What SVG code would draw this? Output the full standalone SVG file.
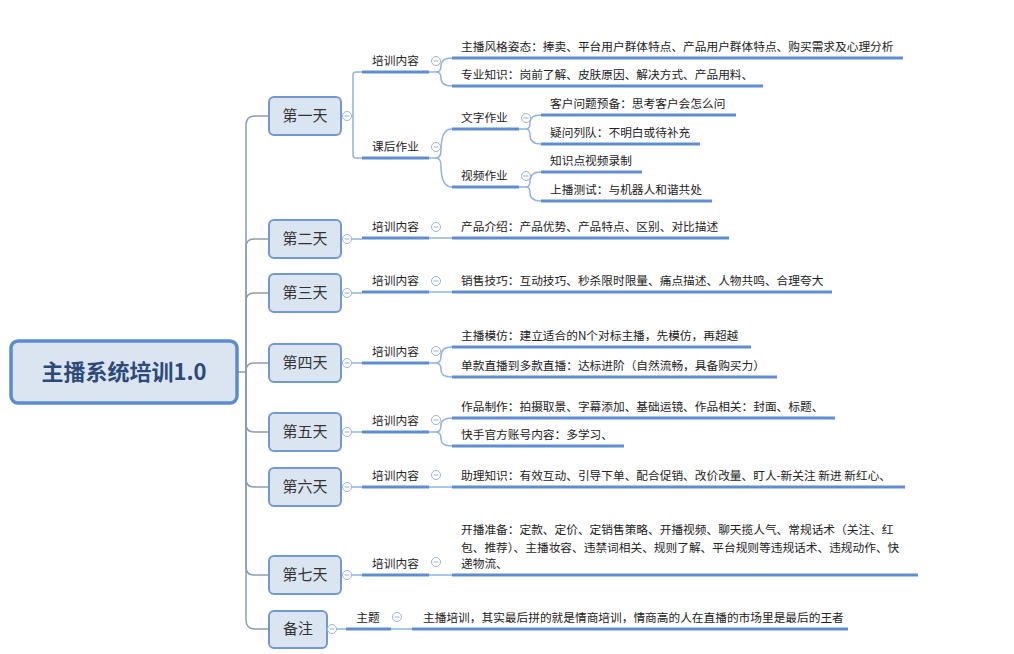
<svg xmlns="http://www.w3.org/2000/svg" width="1014" height="654" viewBox="0 0 1014 654">
<style>
text{font-family:"Noto Sans CJK SC","Microsoft YaHei",sans-serif;}
.root rect{fill:#dbe5f2;stroke:#5b8bd0;stroke-width:3.5;}
.root text{font-size:22px;font-weight:bold;fill:#2c4a78;text-anchor:middle;}
.day rect{fill:#dbe5f2;stroke:#7199d0;stroke-width:2;}
.day text{font-size:15px;fill:#333;text-anchor:middle;}
.lbl{font-size:11.7px;fill:#222;}
.mid{text-anchor:middle;}
.ul{stroke:#5f8dcf;stroke-width:3;fill:none;}
.cn{stroke:#93b2dc;stroke-width:1.5;fill:none;}
.sp{stroke:#8c9cb3;stroke-width:1.5;fill:none;}
.tog{fill:#fff;stroke:#9db2cf;stroke-width:1;}
.tm{stroke:#9db2cf;stroke-width:1;}
</style>
<defs>
<g id="tg"><circle class="tog" r="4.5"/><line class="tm" x1="-2.5" y1="0" x2="2.5" y2="0"/></g>
</defs>
<rect width="1014" height="654" fill="#fff"/>

<g id="connectors">
<!-- spine -->
<path class="sp" d="M238 372 H246"/>
<path class="sp" d="M246 372 V125 Q246 116 255 116 H269"/>
<path class="sp" d="M246 372 V247 Q246 239 254 239 H269"/>
<path class="sp" d="M246 372 V301 Q246 293 254 293 H269"/>
<path class="sp" d="M246 372 V371 Q246 363 254 363 H269"/>
<path class="sp" d="M246 372 V424 Q246 432 254 432 H269"/>
<path class="sp" d="M246 372 V479 Q246 487 254 487 H269"/>
<path class="sp" d="M246 372 V567 Q246 575 254 575 H269"/>
<path class="sp" d="M246 372 V620 Q246 629 255 629 H269"/>
<!-- day 1 -->
<path class="cn" d="M351 116 H353"/>
<path class="cn" d="M362 72 H356 Q353 72 353 75 V155 Q353 158 356 158 H362"/>
<path class="cn" d="M429 72 H436 Q441 72 441 66 Q441 58 452 58"/>
<path class="cn" d="M436 72 Q441 72 441 78 Q441 86 452 86"/>
<path class="cn" d="M429 158 H436 Q441 158 441 150 Q441 129 452 129"/>
<path class="cn" d="M436 158 Q441 158 441 166 Q441 187 452 187"/>
<path class="cn" d="M519 129 H526 Q530 129 530 123 Q530 115 541 115"/>
<path class="cn" d="M526 129 Q530 129 530 135 Q530 144 541 144"/>
<path class="cn" d="M519 187 H526 Q530 187 530 181 Q530 172 541 172"/>
<path class="cn" d="M526 187 Q530 187 530 193 Q530 201 541 201"/>
<!-- day 2..7 -->
<path class="cn" d="M351 239 H362 M429 238 H452"/>
<path class="cn" d="M351 293 H362 M429 292 H452"/>
<path class="cn" d="M351 363 H362"/>
<path class="cn" d="M429 363 H436 Q441 363 441 356 Q441 347 452 347"/>
<path class="cn" d="M436 363 Q441 363 441 370 Q441 377 452 377"/>
<path class="cn" d="M351 432 H362"/>
<path class="cn" d="M429 432 H436 Q441 432 441 425 Q441 418 452 418"/>
<path class="cn" d="M436 432 Q441 432 441 439 Q441 446 452 446"/>
<path class="cn" d="M351 487 H362 M429 487 H452"/>
<path class="cn" d="M351 575 H362 M429 575 H452"/>
<path class="cn" d="M336 629 H346 M391 629 H412"/>
</g>

<g id="root" class="root">
<rect x="11" y="341" width="226" height="62" rx="7"/>
<text x="124" y="380">主播系统培训1.0</text>
</g>

<g id="day1">
<g class="day"><rect x="269" y="97" width="72" height="38" rx="5"/><text x="305" y="121">第一天</text></g>
<use href="#tg" x="347" y="116"/>
<g id="d1-train">
<text class="lbl mid" x="395.5" y="65">培训内容</text><line class="ul" x1="362" y1="72" x2="429" y2="72"/><use href="#tg" x="436" y="61"/>
<text class="lbl" x="461" y="51">主播风格姿态：捧卖、平台用户群体特点、产品用户群体特点、购买需求及心理分析</text><line class="ul" x1="452" y1="58" x2="903" y2="58"/>
<text class="lbl" x="461" y="79">专业知识：岗前了解、皮肤原因、解决方式、产品用料、</text><line class="ul" x1="452" y1="86" x2="763" y2="86"/>
</g>
<g id="d1-hw">
<text class="lbl mid" x="395.5" y="151">课后作业</text><line class="ul" x1="362" y1="158" x2="429" y2="158"/><use href="#tg" x="436" y="147"/>
<text class="lbl" x="461" y="122">文字作业</text><line class="ul" x1="452" y1="129" x2="519" y2="129"/><use href="#tg" x="526" y="118"/>
<text class="lbl" x="550" y="108">客户问题预备：思考客户会怎么问</text><line class="ul" x1="541" y1="115" x2="736" y2="115"/>
<text class="lbl" x="550" y="137">疑问列队：不明白或待补充</text><line class="ul" x1="541" y1="144" x2="700" y2="144"/>
<text class="lbl" x="461" y="180">视频作业</text><line class="ul" x1="452" y1="187" x2="519" y2="187"/><use href="#tg" x="526" y="176"/>
<text class="lbl" x="550" y="165">知识点视频录制</text><line class="ul" x1="541" y1="172" x2="642" y2="172"/>
<text class="lbl" x="550" y="194">上播测试：与机器人和谐共处</text><line class="ul" x1="541" y1="201" x2="712" y2="201"/>
</g>
</g>

<g id="day2">
<g class="day"><rect x="269" y="220" width="72" height="38" rx="5"/><text x="305" y="244">第二天</text></g>
<use href="#tg" x="347" y="239"/>
<text class="lbl mid" x="395.5" y="231">培训内容</text><line class="ul" x1="362" y1="238" x2="429" y2="238"/><use href="#tg" x="436" y="227"/>
<text class="lbl" x="461" y="231">产品介绍：产品优势、产品特点、区别、对比描述</text><line class="ul" x1="452" y1="238" x2="729" y2="238"/>
</g>

<g id="day3">
<g class="day"><rect x="269" y="274" width="72" height="38" rx="5"/><text x="305" y="298">第三天</text></g>
<use href="#tg" x="347" y="293"/>
<text class="lbl mid" x="395.5" y="285">培训内容</text><line class="ul" x1="362" y1="292" x2="429" y2="292"/><use href="#tg" x="436" y="281"/>
<text class="lbl" x="461" y="285">销售技巧：互动技巧、秒杀限时限量、痛点描述、人物共鸣、合理夸大</text><line class="ul" x1="452" y1="292" x2="832" y2="292"/>
</g>

<g id="day4">
<g class="day"><rect x="269" y="344" width="72" height="38" rx="5"/><text x="305" y="368">第四天</text></g>
<use href="#tg" x="347" y="363"/>
<text class="lbl mid" x="395.5" y="356">培训内容</text><line class="ul" x1="362" y1="363" x2="429" y2="363"/><use href="#tg" x="436" y="351"/>
<text class="lbl" x="461" y="340">主播模仿：建立适合的N个对标主播，先模仿，再超越</text><line class="ul" x1="452" y1="347" x2="751" y2="347"/>
<text class="lbl" x="461" y="370">单款直播到多款直播：达标进阶（自然流畅，具备购买力）</text><line class="ul" x1="452" y1="377" x2="777" y2="377"/>
</g>

<g id="day5">
<g class="day"><rect x="269" y="413" width="72" height="38" rx="5"/><text x="305" y="437">第五天</text></g>
<use href="#tg" x="347" y="432"/>
<text class="lbl mid" x="395.5" y="425">培训内容</text><line class="ul" x1="362" y1="432" x2="429" y2="432"/><use href="#tg" x="436" y="420"/>
<text class="lbl" x="461" y="411">作品制作：拍摄取景、字幕添加、基础运镜、作品相关：封面、标题、</text><line class="ul" x1="452" y1="418" x2="835" y2="418"/>
<text class="lbl" x="461" y="439">快手官方账号内容：多学习、</text><line class="ul" x1="452" y1="446" x2="624" y2="446"/>
</g>

<g id="day6">
<g class="day"><rect x="269" y="468" width="72" height="38" rx="5"/><text x="305" y="492">第六天</text></g>
<use href="#tg" x="347" y="487"/>
<text class="lbl mid" x="395.5" y="480">培训内容</text><line class="ul" x1="362" y1="487" x2="429" y2="487"/><use href="#tg" x="436" y="475"/>
<text class="lbl" x="461" y="480">助理知识：有效互动、引导下单、配合促销、改价改量、盯人-新关注 新进 新红心、</text><line class="ul" x1="452" y1="487" x2="905" y2="487"/>
</g>

<g id="day7">
<g class="day"><rect x="269" y="556" width="72" height="38" rx="5"/><text x="305" y="580">第七天</text></g>
<use href="#tg" x="347" y="575"/>
<text class="lbl mid" x="395.5" y="568">培训内容</text><line class="ul" x1="362" y1="575" x2="429" y2="575"/><use href="#tg" x="436" y="562"/>
<text class="lbl" x="461"><tspan x="461" y="534">开播准备：定款、定价、定销售策略、开播视频、聊天揽人气、常规话术（关注、红</tspan><tspan x="461" y="552">包、推荐）、主播妆容、违禁词相关、规则了解、平台规则等违规话术、违规动作、快</tspan><tspan x="461" y="568">递物流、</tspan></text>
<line class="ul" x1="452" y1="575" x2="918" y2="575"/>
</g>

<g id="note">
<g class="day"><rect x="269" y="611" width="58" height="37" rx="5"/><text x="298" y="634">备注</text></g>
<use href="#tg" x="332" y="629"/>
<text class="lbl mid" x="368" y="622">主题</text><line class="ul" x1="346" y1="629" x2="391" y2="629"/><use href="#tg" x="397" y="617"/>
<text class="lbl" x="423" y="622">主播培训，其实最后拼的就是情商培训，情商高的人在直播的市场里是最后的王者</text><line class="ul" x1="412" y1="629" x2="848" y2="629"/>
</g>
</svg>
